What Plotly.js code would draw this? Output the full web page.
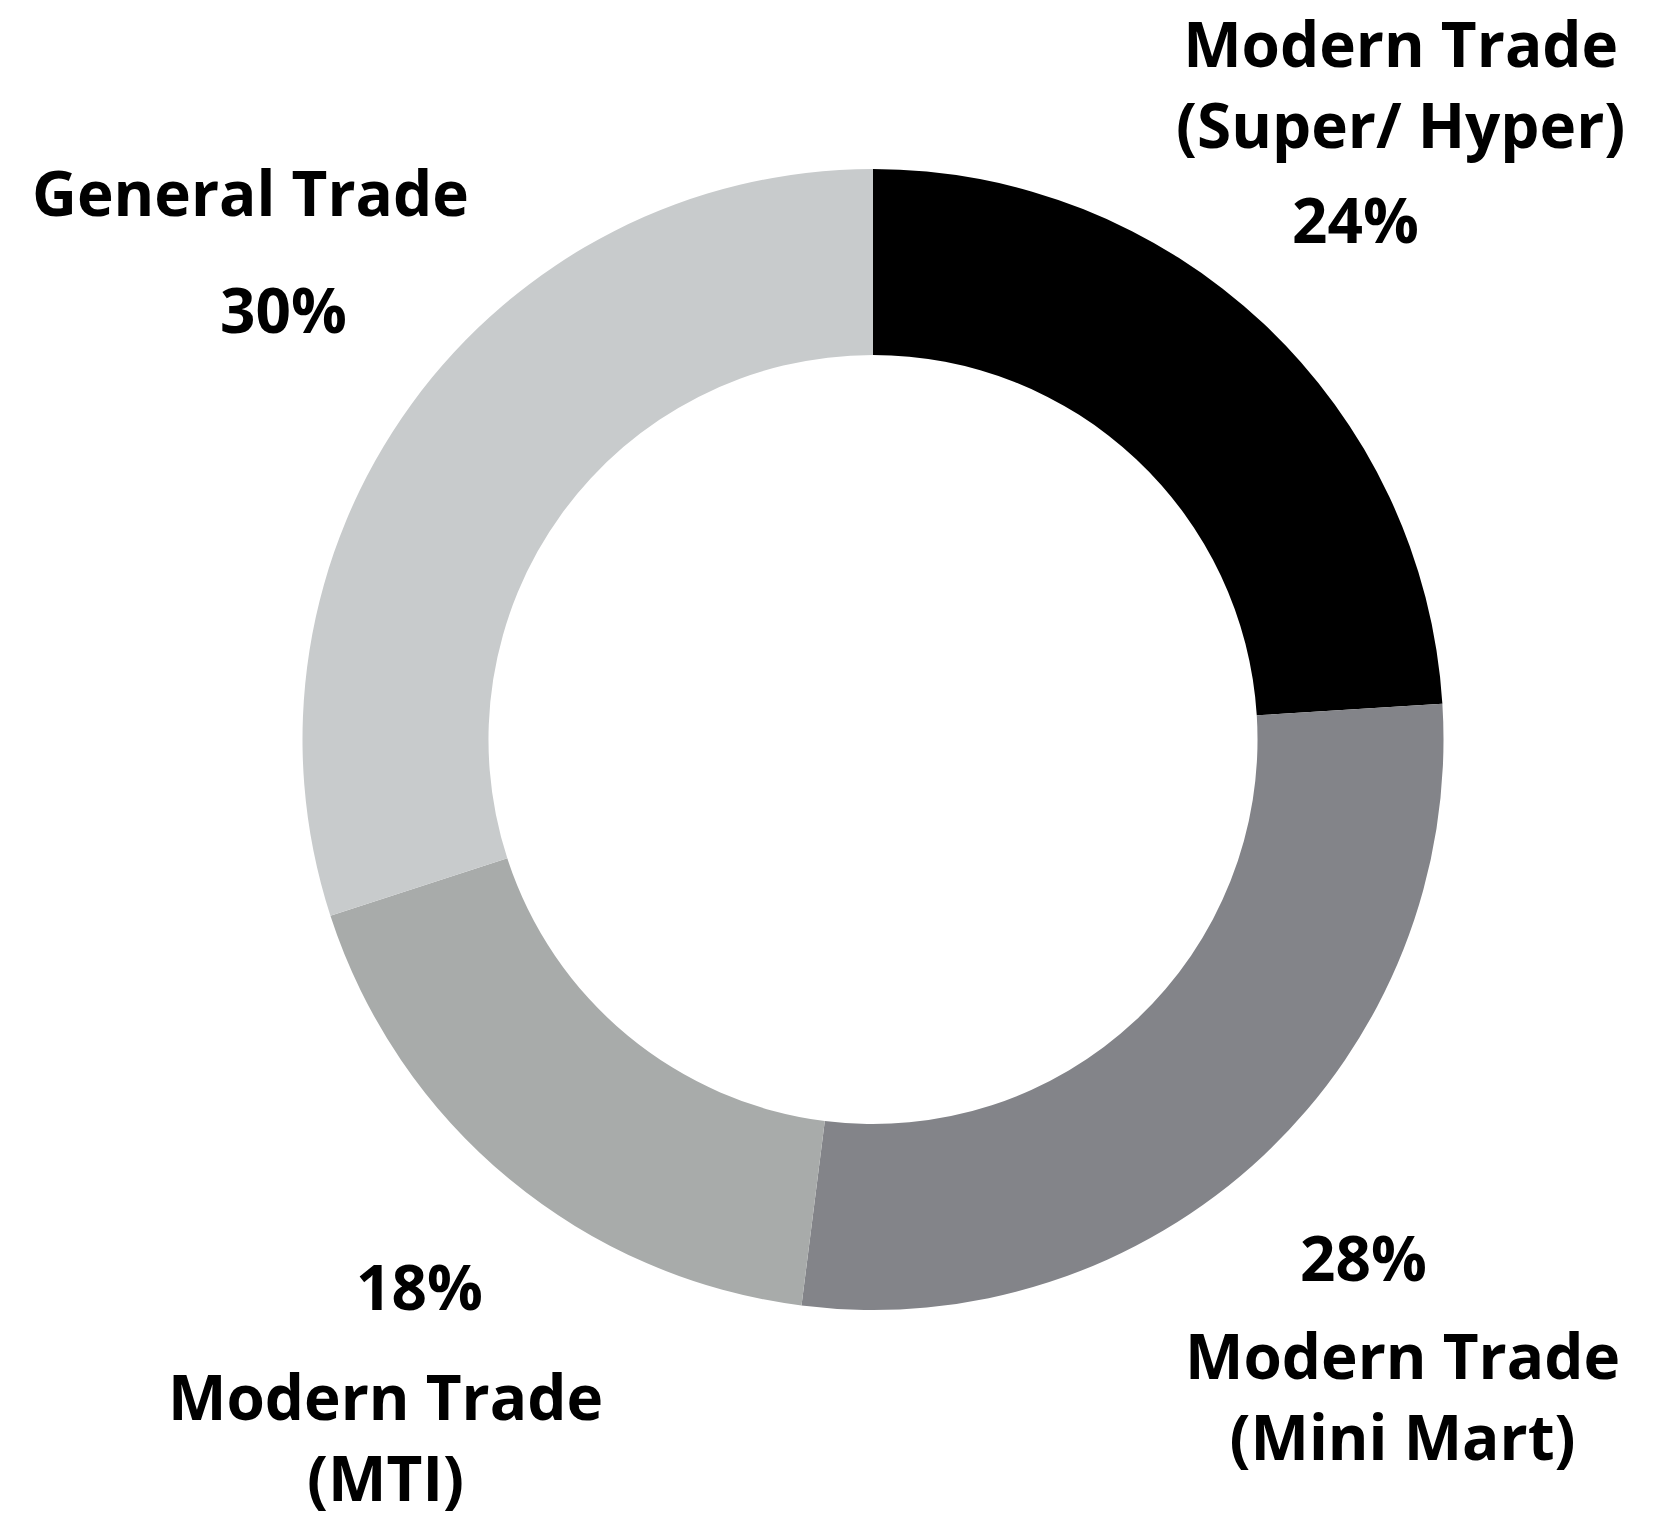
<!DOCTYPE html>
<html>
<head>
<meta charset="utf-8">
<script src="https://cdn.plot.ly/plotly-3.0.1.min.js"></script>
<style>
  html, body { margin: 0; padding: 0; background: #ffffff; }
  #chart { width: 1660px; height: 1520px; }
</style>
</head>
<body>
<div id="chart"></div>
<script>
// ---- data ----
const categories = ["Modern Trade (Super/ Hyper)", "Modern Trade (Mini Mart)", "Modern Trade (MTI)", "General Trade"];
const shares = [24, 28, 18, 30];
const nameLines = [
  ["Modern Trade", "(Super/ Hyper)"],
  ["Modern Trade", "(Mini Mart)"],
  ["Modern Trade", "(MTI)"],
  ["General Trade"]
];
const sliceColors = ["#000000", "#838489", "#a8abaa", "#c8cbcc"];

// ---- layout helpers (pixel positions: centre x, y, anchor) ----
const W = 1660, H = 1520;
const namePos = [
  { x: 1400, y: 0, anchor: "top" },
  { x: 1402, y: 1395, anchor: "middle" },
  { x: 385, y: 1520, anchor: "bottom" },
  { x: 250, y: 192, anchor: "middle" }
];
const pctPos = [[1355, 219], [1363, 1257], [420, 1286], [283, 309]];

const FONT = { family: "'Open Sans', 'DejaVu Sans', sans-serif", size: 62, color: "#000000", weight: 700 };

const annotations = [];
categories.forEach((c, i) => {
  annotations.push({
    text: nameLines[i].map(l => "<b>" + l + "</b>").join("<br>"),
    xref: "paper", yref: "paper",
    x: namePos[i].x / W, y: 1 - namePos[i].y / H,
    xanchor: "center", yanchor: namePos[i].anchor,
    align: "center",
    borderpad: 0,
    showarrow: false, font: FONT
  });
  annotations.push({
    text: "<b>" + shares[i] + "%</b>",
    xref: "paper", yref: "paper",
    x: pctPos[i][0] / W, y: 1 - pctPos[i][1] / H,
    xanchor: "center", yanchor: "middle",
    borderpad: 0,
    showarrow: false, font: FONT
  });
});

const cx = 873, cy = 739.5, R = 570.5;
const trace = {
  type: "pie",
  labels: categories,
  values: shares,
  sort: false,
  direction: "clockwise",
  rotation: 0,
  hole: 0.674,
  textinfo: "none",
  hoverinfo: "label+percent",
  marker: { colors: sliceColors, line: { width: 0 } },
  domain: { x: [(cx - R) / W, (cx + R) / W], y: [1 - (cy + R) / H, 1 - (cy - R) / H] }
};

const layout = {
  width: W, height: H,
  margin: { l: 0, r: 0, t: 0, b: 0 },
  paper_bgcolor: "#ffffff",
  plot_bgcolor: "#ffffff",
  showlegend: false,
  annotations: annotations
};

Plotly.newPlot("chart", [trace], layout, { displayModeBar: false, staticPlot: true });
</script>
</body>
</html>
